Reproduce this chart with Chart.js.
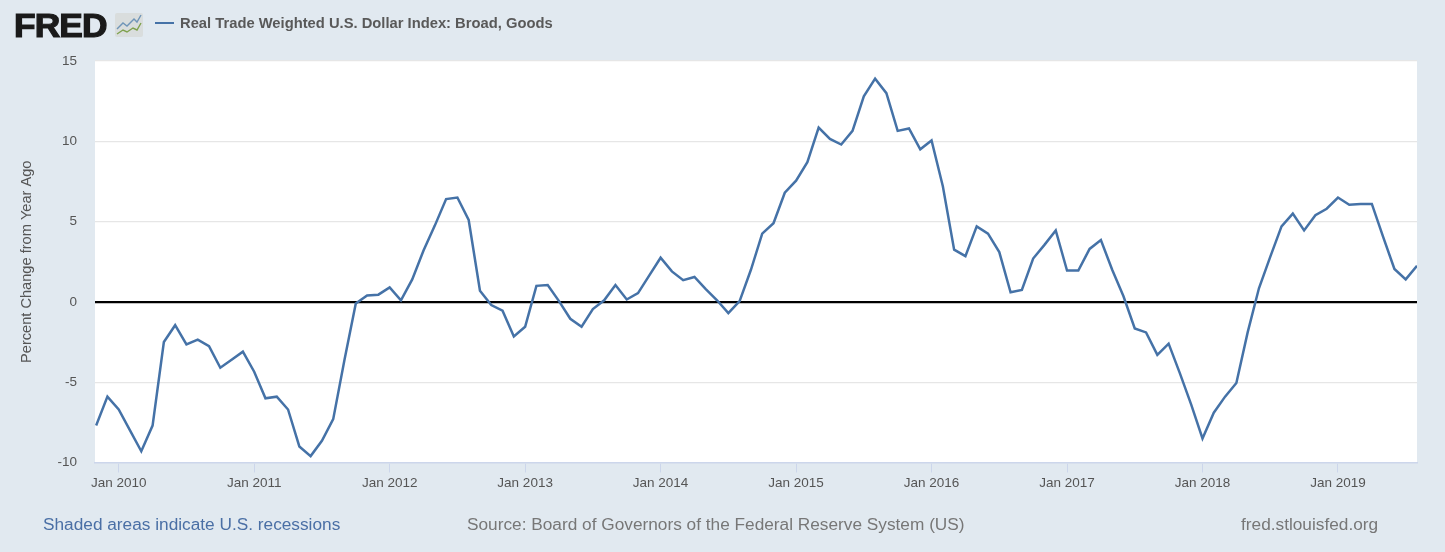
<!DOCTYPE html>
<html><head><meta charset="utf-8">
<script src="https://cdn.jsdelivr.net/npm/chart.js@4"></script>
<style>
html,body{margin:0;padding:0;background:#e1e9f0;width:1445px;height:552px;overflow:hidden;font-family:"Liberation Sans",Arial,sans-serif}
#c{position:absolute;left:0;top:0}
.t{position:absolute;white-space:nowrap;line-height:1}
#logo{left:14px;top:9px;font-size:33px;font-weight:bold;color:#1a1a1a;letter-spacing:-0.8px;-webkit-text-stroke:1.2px #1a1a1a;transform-origin:left top;transform:scaleX(1.07)}
#icon{position:absolute;left:114px;top:12px}
#swatch{position:absolute;left:155px;top:22px;width:19px;height:2px;background:#4572a7}
#title{left:180px;top:16px;font-size:14.75px;font-weight:bold;color:#595959}
#rec{left:43px;top:516px;font-size:17.25px;color:#4a6fa5}
#src{left:467px;top:516px;font-size:17.25px;color:#777}
#site{left:1241px;top:516px;font-size:17.25px;color:#777}
</style></head><body>
<canvas id="c" width="1445" height="552"></canvas>
<div class="t" id="logo">FRED</div>
<svg id="icon" width="30" height="26" viewBox="0 0 30 26"><rect x="1" y="1" width="28" height="24" rx="2" fill="#d9dddd"/><polyline points="3,17 9,11 13,14 20,7 23,10 27,3" fill="none" stroke="#6f95b8" stroke-width="1.4"/><polyline points="3,22 9,18 13,20 19,16 23,18 27,11" fill="none" stroke="#7fa24f" stroke-width="1.4"/></svg>
<div id="swatch"></div>
<div class="t" id="title">Real Trade Weighted U.S. Dollar Index: Broad, Goods</div>
<div class="t" id="rec">Shaded areas indicate U.S. recessions</div>
<div class="t" id="src">Source: Board of Governors of the Federal Reserve System (US)</div>
<div class="t" id="site">fred.stlouisfed.org</div>
<script>
const seriesName = "Real Trade Weighted U.S. Dollar Index: Broad, Goods";
const yAxisTitle = "Percent Change from Year Ago";
const yTicks = [-10, -5, 0, 5, 10, 15];
const months = [
 "Nov 2009","Dec 2009",
 "Jan 2010","Feb 2010","Mar 2010","Apr 2010","May 2010","Jun 2010","Jul 2010","Aug 2010","Sep 2010","Oct 2010","Nov 2010","Dec 2010",
 "Jan 2011","Feb 2011","Mar 2011","Apr 2011","May 2011","Jun 2011","Jul 2011","Aug 2011","Sep 2011","Oct 2011","Nov 2011","Dec 2011",
 "Jan 2012","Feb 2012","Mar 2012","Apr 2012","May 2012","Jun 2012","Jul 2012","Aug 2012","Sep 2012","Oct 2012","Nov 2012","Dec 2012",
 "Jan 2013","Feb 2013","Mar 2013","Apr 2013","May 2013","Jun 2013","Jul 2013","Aug 2013","Sep 2013","Oct 2013","Nov 2013","Dec 2013",
 "Jan 2014","Feb 2014","Mar 2014","Apr 2014","May 2014","Jun 2014","Jul 2014","Aug 2014","Sep 2014","Oct 2014","Nov 2014","Dec 2014",
 "Jan 2015","Feb 2015","Mar 2015","Apr 2015","May 2015","Jun 2015","Jul 2015","Aug 2015","Sep 2015","Oct 2015","Nov 2015","Dec 2015",
 "Jan 2016","Feb 2016","Mar 2016","Apr 2016","May 2016","Jun 2016","Jul 2016","Aug 2016","Sep 2016","Oct 2016","Nov 2016","Dec 2016",
 "Jan 2017","Feb 2017","Mar 2017","Apr 2017","May 2017","Jun 2017","Jul 2017","Aug 2017","Sep 2017","Oct 2017","Nov 2017","Dec 2017",
 "Jan 2018","Feb 2018","Mar 2018","Apr 2018","May 2018","Jun 2018","Jul 2018","Aug 2018","Sep 2018","Oct 2018","Nov 2018","Dec 2018",
 "Jan 2019","Feb 2019","Mar 2019","Apr 2019","May 2019","Jun 2019","Jul 2019","Aug 2019"];
const values = [
 -7.7,-5.9,
 -6.7,-8.0,-9.3,-7.7,-2.5,-1.45,-2.65,-2.35,-2.75,-4.1,-3.6,-3.1,
 -4.35,-6.0,-5.9,-6.7,-9.0,-9.6,-8.65,-7.3,-3.6,-0.1,0.4,0.45,
 0.9,0.1,1.4,3.2,4.75,6.4,6.5,5.1,0.7,-0.2,-0.55,-2.15,
 -1.55,1.0,1.05,0.05,-1.05,-1.55,-0.45,0.1,1.05,0.15,0.55,1.65,
 2.75,1.9,1.35,1.55,0.8,0.1,-0.7,0.05,2.0,4.25,4.9,6.8,
 7.55,8.7,10.85,10.15,9.8,10.65,12.8,13.9,13.0,10.65,10.8,9.5,
 10.05,7.2,3.25,2.85,4.7,4.25,3.1,0.6,0.75,2.7,3.55,4.45,
 1.95,1.95,3.3,3.85,2.0,0.35,-1.65,-1.9,-3.3,-2.6,-4.45,-6.4,
 -8.5,-6.9,-5.9,-5.05,-1.9,0.85,2.8,4.7,5.5,4.45,5.4,5.8,
 6.5,6.05,6.1,6.1,4.05,2.05,1.4,2.25];

const janIndexes = months.map((m,i)=>m.startsWith("Jan")?i:-1).filter(i=>i>=0);
const points = values.map((v,i)=>({x:i,y:v}));
const plotBg = {id:"plotBg",beforeDraw(ch){const a=ch.chartArea,g=ch.ctx;g.save();g.fillStyle="#fff";g.fillRect(a.left,a.top-0.5,a.right-a.left,a.bottom-a.top+0.5);g.restore();}};

new Chart(document.getElementById("c"),{
 type:"line",
 data:{datasets:[{label:seriesName,data:points,borderColor:"#4572a7",borderWidth:2.5,pointRadius:0,tension:0,fill:false}]},
 plugins:[plotBg],
 options:{
  responsive:false,animation:false,devicePixelRatio:1,
  layout:{padding:{left:0,right:28,top:61,bottom:0}},
  plugins:{legend:{display:false},tooltip:{enabled:false},title:{display:false}},
  scales:{
   x:{type:"linear",min:-0.1,max:months.length-1,
    afterFit(s){s.height=89.5;},
    afterBuildTicks(s){s.ticks=janIndexes.map(v=>({value:v}));},
    border:{display:true,color:"#ccd6eb",width:1.5},
    grid:{drawOnChartArea:false,drawTicks:true,tickLength:10,tickColor:"#ccd6eb",lineWidth:1},
    ticks:{autoSkip:false,maxRotation:0,minRotation:0,padding:3,color:"#555",font:{family:"'Liberation Sans'",size:13.5},
     callback(v){return months[v];}}
   },
   y:{type:"linear",min:-10,max:15,
    afterFit(s){s.width=95;},
    afterBuildTicks(s){s.ticks=yTicks.map(v=>({value:v}));},
    border:{display:false},
    grid:{drawTicks:false,color:c=>c.tick&&c.tick.value===0?"#000":"#e6e6e6",lineWidth:c=>c.tick&&c.tick.value===0?2.2:1.2},
    ticks:{padding:18,color:"#555",font:{family:"'Liberation Sans'",size:13.5}},
    title:{display:true,text:yAxisTitle,color:"#555",padding:{top:18,bottom:0},font:{family:"'Liberation Sans'",size:14.6}}
   }
  }
 }
});
</script>
</body></html>
